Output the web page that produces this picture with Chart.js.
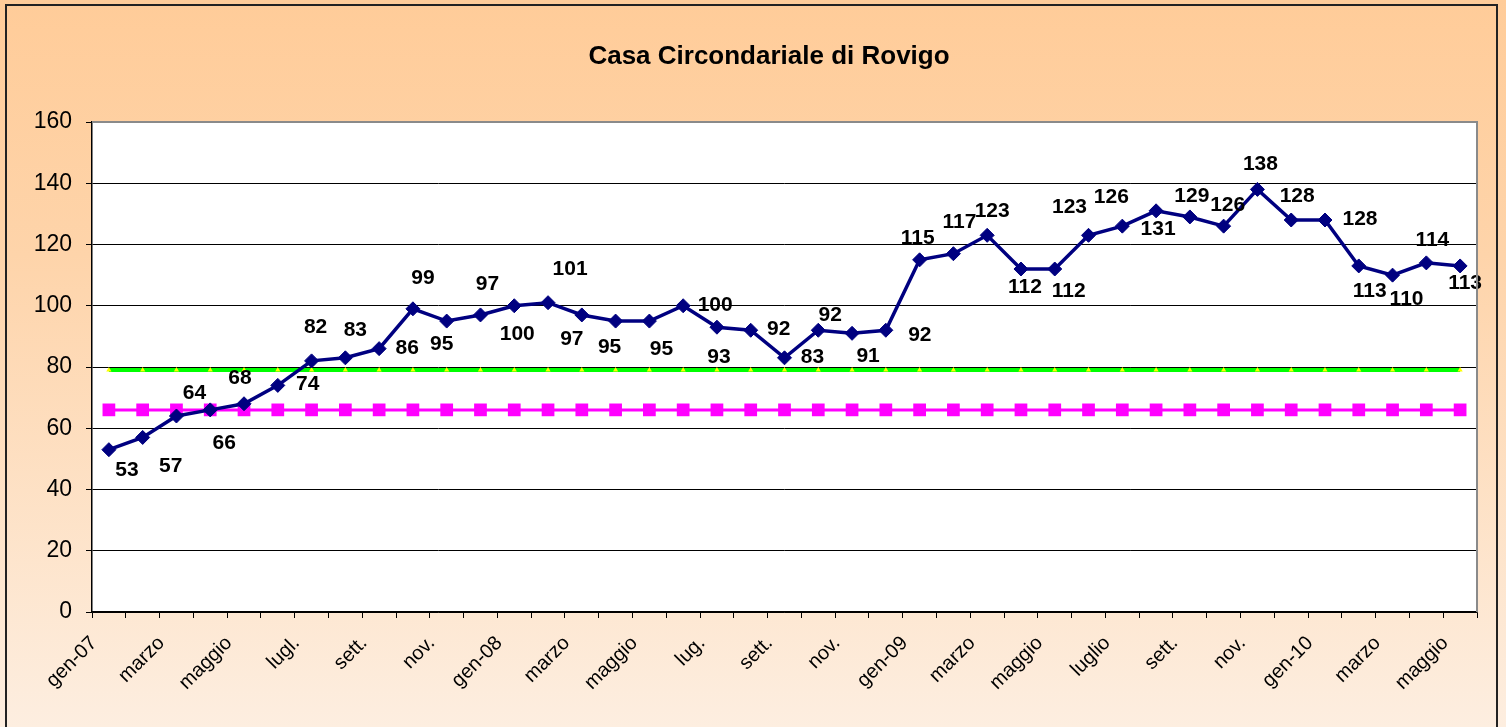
<!DOCTYPE html>
<html>
<head>
<meta charset="utf-8">
<script src="https://cdn.jsdelivr.net/npm/chart.js@4/dist/chart.umd.min.js"></script>
<style>
  html, body { margin: 0; padding: 0; background: #fff; }
  #wrap { width: 1506px; height: 727px; position: relative; }
</style>
</head>
<body>
<div id="wrap"><canvas id="chart" width="1506" height="727"></canvas></div>
<script>
// monthly labels gen-07 .. maggio 2010, only every other month shown
const categories = [
  'gen-07', '', 'marzo', '', 'maggio', '', 'lugl.', '', 'sett.', '', 'nov.', '',
  'gen-08', '', 'marzo', '', 'maggio', '', 'lug.', '', 'sett.', '', 'nov.', '',
  'gen-09', '', 'marzo', '', 'maggio', '', 'luglio', '', 'sett.', '', 'nov.', '',
  'gen-10', '', 'marzo', '', 'maggio'
];

const presenze = [
  53, 57, 64, 66, 68, 74, 82, 83, 86, 99, 95, 97,
  100, 101, 97, 95, 95, 100, 93, 92, 83, 92, 91, 92,
  115, 117, 123, 112, 112, 123, 126, 131, 129, 126, 138, 128,
  128, 113, 110, 114, 113
];

const capienzaTollerabile = 79;
const capienzaRegolamentare = 66;

const yTicks = [0, 20, 40, 60, 80, 100, 120, 140, 160];

// where each value label sits relative to its point (dx, dy in px)
const labelOffsets = [
  [18, 21], [28, 29], [18, -23], [14, 33], [-4, -26], [30, -1], [4, -34], [10, -28],
  [28, 0], [10, -31], [-5, 23], [7, -31], [3, 28], [22, -33], [-10, 24], [-6, 26],
  [12, 28], [32, -1], [2, 30], [28, -1], [28, -1], [12, -15], [16, 23], [34, 5],
  [-2, -22], [6, -31], [5, -24], [4, 18], [14, 22], [-19, -28], [-11, -29], [2, 18],
  [2, -21], [4, -21], [3, -25], [6, -24], [35, -1], [11, 25], [14, 24], [6, -23], [5, 17]
];

const FONT = 'Arial, "Liberation Sans", sans-serif';

const backdrop = {
  id: 'backdrop',
  beforeDraw(chart) {
    const c = chart.ctx, a = chart.chartArea;
    c.save();
    const g = c.createLinearGradient(0, 0, 0, chart.height);
    g.addColorStop(0, '#ffcc99');
    g.addColorStop(0.35, '#fed4aa');
    g.addColorStop(1, '#fdeee0');
    c.fillStyle = g;
    c.fillRect(0, 0, chart.width, chart.height);
    c.fillStyle = '#fff';
    c.fillRect(a.left, a.top, a.right - a.left, a.bottom - a.top);
    c.strokeStyle = '#222';
    c.lineWidth = 2;
    c.strokeRect(6, 5, 1491, 740);
    c.fillStyle = '#000';
    c.font = 'bold 26px ' + FONT;
    c.textAlign = 'center';
    c.textBaseline = 'alphabetic';
    c.fillText('Casa Circondariale di Rovigo', 769, 64);
    c.restore();
  },
  afterDraw(chart) {
    const c = chart.ctx, a = chart.chartArea;
    c.save();
    c.strokeStyle = '#8a8a8a';
    c.lineWidth = 2;
    c.beginPath();
    c.moveTo(a.left, a.top);
    c.lineTo(a.right, a.top);
    c.lineTo(a.right, a.bottom);
    c.stroke();

    // slanted month labels under the axis
    const xs = chart.scales.x;
    c.fillStyle = '#000';
    c.font = '20px ' + FONT;
    c.textAlign = 'right';
    c.textBaseline = 'middle';
    categories.forEach((lab, i) => {
      if (!lab) return;
      c.save();
      c.translate(xs.getPixelForValue(i) - 15, a.bottom + 28);
      c.rotate(-Math.PI / 4);
      c.fillText(lab, 0, 0);
      c.restore();
    });
    c.restore();
  }
};

const valueLabels = {
  id: 'valueLabels',
  afterDatasetsDraw(chart) {
    const c = chart.ctx;
    const meta = chart.getDatasetMeta(0);
    c.save();
    c.fillStyle = '#000';
    c.font = 'bold 21px ' + FONT;
    c.textAlign = 'center';
    c.textBaseline = 'middle';
    meta.data.forEach((pt, i) => {
      const off = labelOffsets[i] || [0, -20];
      c.fillText(String(presenze[i]), pt.x + off[0], pt.y + off[1]);
    });
    c.restore();
  }
};

new Chart(document.getElementById('chart'), {
  type: 'line',
  data: {
    labels: categories,
    datasets: [
      {
        label: 'Presenze', data: presenze,
        borderColor: '#000080', backgroundColor: '#000080', borderWidth: 3.5,
        pointStyle: 'rectRot', pointRadius: 7, pointBorderWidth: 1, tension: 0, order: 0
      },
      {
        label: 'Capienza tollerabile', data: categories.map(() => capienzaTollerabile),
        borderColor: '#00ff00', backgroundColor: '#ffff00', borderWidth: 4,
        pointStyle: 'triangle', pointRadius: 3, pointBorderWidth: 0, order: 2
      },
      {
        label: 'Capienza regolamentare', data: categories.map(() => capienzaRegolamentare),
        borderColor: '#ff00ff', backgroundColor: '#ff00ff', borderWidth: 3,
        pointStyle: 'rect', pointRadius: 9, pointBorderWidth: 0, order: 1
      }
    ]
  },
  options: {
    responsive: false,
    animation: false,
    events: [],
    layout: { padding: { top: 122, right: 29, left: 0, bottom: 0 } },
    plugins: { legend: { display: false }, title: { display: false }, tooltip: { enabled: false } },
    scales: {
      x: {
        offset: true,
        afterFit: s => { s.height = 115; },
        border: { color: '#000', width: 1.5 },
        grid: { offset: true, drawOnChartArea: false, drawTicks: true, tickLength: 6, tickColor: '#000', color: '#000' },
        ticks: { display: false, autoSkip: false }
      },
      y: {
        min: 0, max: 160,
        afterFit: s => { s.width = 92; },
        afterBuildTicks: s => { s.ticks = yTicks.map(v => ({ value: v })); },
        border: { color: '#000', width: 1.5 },
        grid: {
          color: ctx => (ctx.tick && ctx.tick.value === 160 ? '#8a8a8a' : '#000'),
          lineWidth: 1, tickLength: 6, tickColor: '#000'
        },
        ticks: { padding: 14, color: '#000', font: { family: FONT, size: 23 } }
      }
    }
  },
  plugins: [backdrop, valueLabels]
});
</script>
</body>
</html>
